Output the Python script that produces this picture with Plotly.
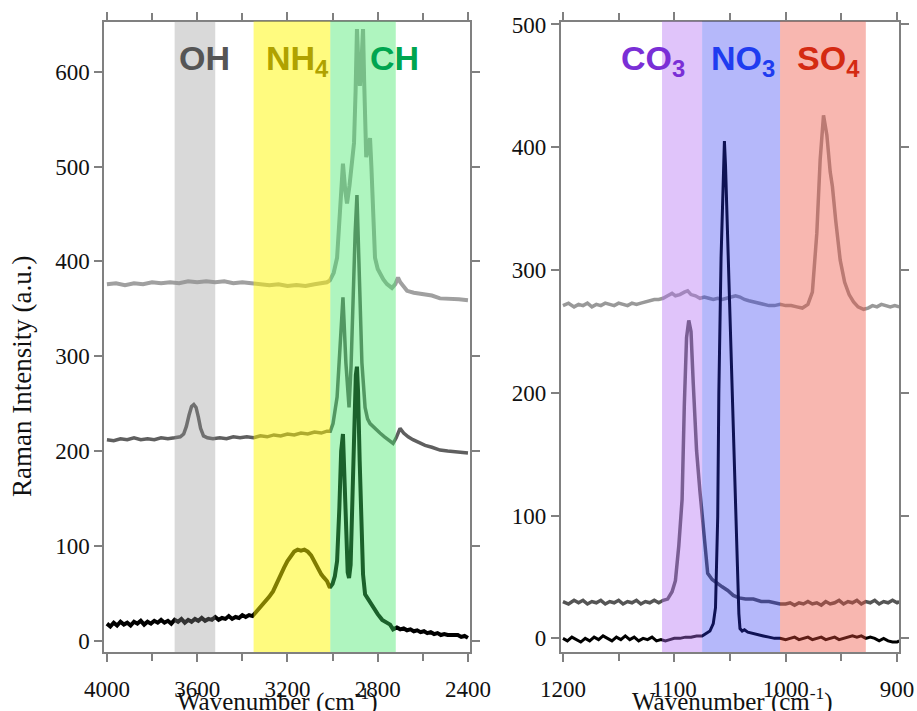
import plotly.graph_objects as go

# ---------------- data ----------------
# Left panel: high-wavenumber region (cm-1), three spectra
left_top = [(4000,376),(3960,377),(3920,375),(3880,377),(3840,376),(3800,378),(3760,377),(3720,378),
            (3680,377),(3640,379),(3600,378),(3560,379),(3520,378),(3480,379),(3440,377),(3400,378),
            (3360,377),(3320,376),(3280,375),(3240,376),(3200,374),(3160,375),(3120,374),(3080,376),
            (3050,377),(3025,378),(3012,380),(2995,388),(2980,404),(2967,450),(2954,503),(2944,475),
            (2936,461),(2925,480),(2914,503),(2905,525),(2898,580),(2892,645),(2886,610),(2879,585),
            (2872,610),(2865,645),(2860,590),(2856,540),(2851,510),(2843,518),(2834,530),(2828,500),
            (2821,467),(2812,404),(2800,392),(2790,387),(2775,381),(2759,376),(2737,372),(2722,376),
            (2710,383),(2700,378),(2670,369),(2640,367),(2600,366),(2560,364),(2524,361),(2480,361),
            (2440,360),(2400,359)]

left_mid = [(4000,212),(3970,211),(3940,213),(3910,212),(3880,214),(3850,212),(3820,213),(3790,212),
            (3760,214),(3730,213),(3700,214),(3675,215),(3660,218),(3648,226),(3636,238),(3625,247),
            (3615,249),(3605,246),(3595,236),(3585,224),(3572,216),(3555,214),(3530,213),(3500,214),
            (3470,213),(3440,215),(3410,214),(3380,215),(3350,214),(3320,216),(3290,215),(3260,217),
            (3230,216),(3200,218),(3170,217),(3140,219),(3110,218),(3080,220),(3050,219),(3025,221),
            (3010,221),(2998,229),(2980,257),(2967,314),(2954,362),(2941,293),(2927,246),(2918,290),
            (2910,362),(2900,430),(2892,470),(2883,398),(2870,293),(2856,246),(2845,234),(2834,229),
            (2810,223),(2790,219),(2770,215),(2754,212),(2732,208),(2718,214),(2701,224),(2685,219),
            (2665,215),(2644,212),(2620,209),(2590,206),(2560,204),(2524,201),(2490,200),(2450,199),
            (2400,198)]

left_bot = [(4000,18),(3985,15),(3970,19),(3955,16),(3940,20),(3925,17),(3910,19),(3895,16),(3880,20),
            (3865,18),(3850,21),(3835,17),(3820,20),(3805,18),(3790,21),(3775,19),(3760,22),(3745,19),
            (3730,21),(3715,18),(3700,22),(3685,20),(3670,23),(3655,19),(3640,22),(3625,20),(3610,23),
            (3595,21),(3580,24),(3565,21),(3550,23),(3535,22),(3520,25),(3505,22),(3490,24),(3475,23),
            (3460,26),(3445,23),(3430,25),(3415,24),(3400,27),(3385,25),(3370,27),(3355,26),(3340,30),
            (3320,35),(3300,40),(3282,46),(3264,52),(3246,62),(3230,69),(3215,77),(3200,84),(3185,90),
            (3170,94),(3155,96),(3140,95),(3125,96),(3110,94),(3095,90),(3080,83),(3065,75),(3050,70),
            (3040,67),(3025,63),(3012,56),(3000,60),(2990,68),(2980,84),(2970,140),(2962,200),(2954,218),
            (2948,170),(2940,100),(2933,72),(2927,66),(2920,80),(2912,150),(2904,240),(2897,280),
            (2892,289),(2887,262),(2880,190),(2872,110),(2865,70),(2856,49),(2840,43),(2821,35),
            (2800,28),(2780,22),(2760,19),(2745,17),(2732,12),(2715,14),(2700,12),(2685,13),(2670,11),
            (2655,12),(2640,10),(2625,11),(2610,9),(2595,10),(2580,8),(2565,9),(2550,7),(2535,8),
            (2520,6),(2505,7),(2490,6),(2475,6),(2460,5),(2445,6),(2430,4),(2415,5),(2400,3)]

# Right panel: low-wavenumber region (cm-1), three spectra
right_top = [(1200,271),(1195,273),(1190,270),(1186,272),(1182,271),(1178,273),(1174,270),(1170,272),
             (1166,271),(1162,273),(1158,272),(1154,271),(1150,273),(1146,272),(1142,271),(1138,273),
             (1134,272),(1130,273),(1126,274),(1122,275),(1118,276),(1114,276),(1110,277),(1106,279),
             (1102,281),(1099,279),(1095,280),(1091,282),(1088,283),(1085,280),(1081,279),(1077,277),
             (1073,278),(1069,277),(1065,276),(1061,277),(1057,276),(1053,277),(1049,278),(1045,279),
             (1041,278),(1037,276),(1033,275),(1029,274),(1025,273),(1020,272),(1015,271),(1010,271),
             (1005,272),(1000,271),(995,271),(990,270),(985,269),(980,272),(976,282),(972,330),
             (969,390),(966,426),(963,410),(960,380),(958,368),(955,340),(951,308),(947,290),(943,280),
             (939,274),(935,270),(930,268),(926,269),(922,271),(918,270),(914,272),(910,271),(906,270),
             (902,271),(898,270)]

right_mid = [(1200,30),(1195,28),(1190,31),(1186,29),(1182,31),(1178,28),(1174,30),(1170,29),
             (1166,31),(1162,28),(1158,30),(1154,29),(1150,31),(1146,28),(1142,30),(1138,29),
             (1134,31),(1130,28),(1126,30),(1122,29),(1118,31),(1114,29),(1110,31),(1106,32),
             (1102,38),(1099,47),(1096,75),(1093,113),(1091,190),(1089,245),(1087,259),(1085,250),
             (1083,208),(1080,153),(1077,120),(1075,99),(1072,70),(1070,53),(1066,48),(1062,45),
             (1057,42),(1052,39),(1047,35),(1042,33),(1036,32),(1029,32),(1022,30),(1015,30),
             (1010,29),(1005,28),(1000,28),(996,29),(992,27),(988,29),(984,28),(980,30),(976,28),
             (972,29),(968,27),(964,30),(960,28),(956,29),(952,31),(948,28),(944,30),(940,29),
             (936,31),(932,28),(928,30),(924,29),(920,31),(916,28),(912,30),(908,29),(904,31),
             (900,29),(898,30)]

right_bot = [(1200,0),(1196,-2),(1192,1),(1188,-1),(1184,-3),(1180,0),(1176,-2),(1172,1),(1168,-1),
             (1164,2),(1160,0),(1156,-2),(1152,1),(1148,-1),(1144,2),(1140,-1),(1136,1),(1132,-2),
             (1128,0),(1124,-1),(1120,1),(1116,-2),(1112,-1),(1108,-2),(1104,-1),(1100,0),(1095,0),
             (1090,1),(1085,1),(1080,2),(1075,2),(1071,4),(1068,6),(1065,12),(1063,25),(1061,99),
             (1060,200),(1058,310),(1056,385),(1055,405),(1054,385),(1052,320),(1050,259),(1048,190),
             (1046,130),(1044,80),(1042,20),(1041,8),(1039,6),(1037,7),(1034,5),(1030,4),(1025,3),
             (1020,2),(1015,1),(1010,0),(1005,0),(1000,-1),(996,0),(992,1),(988,-1),(984,0),(980,1),
             (976,-1),(972,0),(968,1),(964,-1),(960,0),(956,1),(952,-1),(948,0),(944,1),(940,2),
             (936,1),(932,2),(928,0),(924,1),(920,0),(916,-2),(912,0),(908,-2),(904,-3),(900,-3),
             (898,-2)]

# Assignment bands (wavenumber ranges)
left_band_names = ["OH", "NH<sub>4</sub>", "CH"]
left_band_hi = [3700, 3350, 3010]
left_band_lo = [3520, 3010, 2720]
right_band_names = ["CO<sub>3</sub>", "NO<sub>3</sub>", "SO<sub>4</sub>"]
right_band_hi = [1111, 1075, 1005]
right_band_lo = [1075, 1005, 928]

left_xticks = [4000, 3600, 3200, 2800, 2400]
left_yticks = [0, 100, 200, 300, 400, 500, 600]
right_xticks = [1200, 1100, 1000, 900]
right_yticks = [0, 100, 200, 300, 400, 500]

# ---------------- styles ----------------
left_band_fill = ["rgba(146,146,146,0.35)", "rgba(255,248,0,0.50)", "rgba(65,231,103,0.42)"]
left_label_color = ["#555555", "#b0a200", "#00a550"]
left_label_x = [3688, 3302, 2845]
right_band_fill = ["rgba(178,108,243,0.40)", "rgba(43,52,240,0.35)", "rgba(237,75,57,0.40)"]
right_label_color = ["#7a2fd6", "#1f3cf0", "#d42a12"]
right_label_x = [1150, 1069, 992]

AXC = "#808080"
SERIF = "Liberation Serif, Times New Roman, serif"
SANS = "Liberation Sans, Arial, sans-serif"


def unzip(pairs):
    return [p[0] for p in pairs], [p[1] for p in pairs]


fig = go.Figure()
for pairs, col, w in [(left_top, "#a0a0a0", 4), (left_mid, "#5f5f5f", 3.5), (left_bot, "#000000", 4)]:
    xs, ys = unzip(pairs)
    fig.add_trace(go.Scatter(x=xs, y=ys, mode="lines", line=dict(color=col, width=w),
                             xaxis="x", yaxis="y", showlegend=False, hoverinfo="skip"))
for pairs, col, w in [(right_top, "#999999", 3.5), (right_mid, "#555555", 3.5), (right_bot, "#000000", 3)]:
    xs, ys = unzip(pairs)
    fig.add_trace(go.Scatter(x=xs, y=ys, mode="lines", line=dict(color=col, width=w),
                             xaxis="x2", yaxis="y2", showlegend=False, hoverinfo="skip"))

shapes = []
for hi, lo, fc in zip(left_band_hi, left_band_lo, left_band_fill):
    shapes.append(dict(type="rect", xref="x", yref="y domain", x0=hi, x1=lo, y0=0, y1=1,
                       fillcolor=fc, line=dict(width=0), layer="above"))
for hi, lo, fc in zip(right_band_hi, right_band_lo, right_band_fill):
    shapes.append(dict(type="rect", xref="x2", yref="y2 domain", x0=hi, x1=lo, y0=0, y1=1,
                       fillcolor=fc, line=dict(width=0), layer="above"))

annotations = []
LABEL_Y = 1 - 37 / 711
for name, col, xl in zip(left_band_names, left_label_color, left_label_x):
    annotations.append(dict(text="<b>" + name + "</b>", x=xl, xref="x", y=LABEL_Y, yref="paper",
                            xanchor="left", yanchor="top", showarrow=False,
                            font=dict(family=SANS, size=34, color=col)))
for name, col, xl in zip(right_band_names, right_label_color, right_label_x):
    annotations.append(dict(text="<b>" + name + "</b>", x=xl, xref="x2", y=LABEL_Y, yref="paper",
                            xanchor="left", yanchor="top", showarrow=False,
                            font=dict(family=SANS, size=34, color=col)))

# axis titles
for xc in [277 / 917, 732 / 917]:
    annotations.append(dict(text="Wavenumber (cm<sup>-1</sup>)", x=xc, xref="paper", y=1 - 699 / 711,
                            yref="paper", xanchor="center", yanchor="middle", showarrow=False,
                            font=dict(family=SERIF, size=25, color="#111111")))
annotations.append(dict(text="Raman Intensity (a.u.)", x=22 / 917, xref="paper", y=1 - 377 / 711,
                        yref="paper", xanchor="center", yanchor="middle", textangle=-90,
                        showarrow=False, font=dict(family=SERIF, size=27, color="#111111")))

axis_common = dict(showline=True, linecolor=AXC, linewidth=1.5, mirror="ticks", ticks="outside",
                   ticklen=8, tickwidth=1.5, tickcolor=AXC, showgrid=False, zeroline=False,
                   tickfont=dict(family=SERIF, size=23, color="#111111"), automargin=False)

YDOM = [1 - 652 / 711, 1 - 21.5 / 711]
fig.update_layout(
    width=917, height=711,
    margin=dict(l=0, r=0, t=0, b=0),
    paper_bgcolor="white", plot_bgcolor="white",
    xaxis=dict(domain=[104 / 917, 470 / 917], range=[4013, 2391], anchor="y",
               tickvals=left_xticks, ticklabelstandoff=8,
               minor=dict(dtick=200, tick0=2400, ticks="outside", ticklen=7, tickcolor=AXC, tickwidth=1.5),
               **axis_common),
    yaxis=dict(domain=YDOM, range=[-11.9, 653], anchor="x", tickvals=left_yticks, **axis_common),
    xaxis2=dict(domain=[560.5 / 917, 899 / 917], range=[1202.2, 898.2], anchor="y2",
                tickvals=right_xticks, ticklabelstandoff=8,
                minor=dict(dtick=50, tick0=900, ticks="outside", ticklen=7, tickcolor=AXC, tickwidth=1.5),
                **axis_common),
    yaxis2=dict(domain=YDOM, range=[-11.1, 502.4], anchor="x2", tickvals=right_yticks, **axis_common),
    shapes=shapes,
    annotations=annotations,
)

fig.write_html("out.html", config={"displayModeBar": False},
               post_script="document.body.style.margin='0';document.body.style.overflow='hidden';")
